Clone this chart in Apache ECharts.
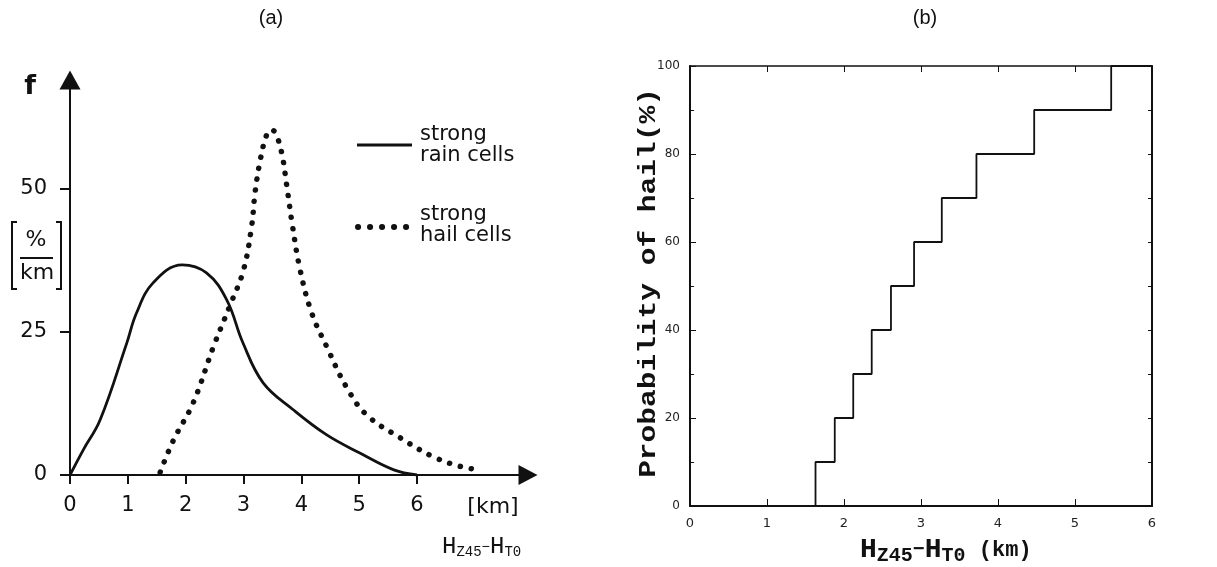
<!DOCTYPE html>
<html>
<head>
<meta charset="utf-8">
<script src="https://cdn.jsdelivr.net/npm/echarts@6/dist/echarts.min.js"></script>
<style>
  html, body { margin: 0; padding: 0; background: #fff; }
  #main { width: 1217px; height: 567px; }
</style>
</head>
<body>
<div id="main"></div>
<script>
// (a) frequency curves, km vs %/km
var rainX = [0, 0.23, 0.52, 0.98, 1.15, 1.44, 1.94, 2.36, 2.71, 2.99, 3.34, 3.86, 4.44, 5.02, 5.6, 6.0];
var rainY = [0, 4.4, 9.6, 23, 28.3, 33.6, 36.7, 35.3, 30.6, 23.1, 16.1, 11.4, 7.0, 3.8, 0.9, 0];
var hailX = [1.56, 1.79, 2.13, 2.48, 2.77, 3.0, 3.14, 3.2, 3.29, 3.4, 3.48, 3.55, 3.66, 3.75, 3.84, 3.98, 4.18, 4.44, 4.79, 5.13, 5.71, 6.28, 6.75, 7.09];
var hailY = [0.5, 6.1, 12.6, 22.4, 29.7, 35.8, 43.4, 49.3, 55, 59.4, 60.3, 59.8, 56.3, 50.4, 44, 35.8, 28.3, 22.4, 15.2, 10.5, 6.5, 3.2, 1.5, 0.9];
var xTicksA = [0, 1, 2, 3, 4, 5, 6];
var yTicksA = [0, 25, 50];

// (b) probability of hail, step curve
var stepX = [0, 1.63, 1.88, 2.12, 2.36, 2.61, 2.91, 3.27, 3.72, 4.47, 5.47, 6];
var stepY = [0, 10, 20, 30, 40, 50, 60, 70, 80, 90, 100, 100];

var ink = '#111';
var sans = 'DejaVu Sans';
var mono = '"Liberation Mono"';

function pairs(xs, ys) {
  return xs.map(function (x, i) { return [x, ys[i]]; });
}

// row of monospace text pieces: [text, size, dy]
function monoRow(x, y, pieces, weight) {
  var cx = x;
  return pieces.map(function (p) {
    var el = {
      type: 'text', x: cx, y: y + p[2],
      style: { text: p[0], font: weight + ' ' + p[1] + 'px ' + mono, fill: ink, textVerticalAlign: 'middle' }
    };
    cx += p[0].length * p[1] * 0.6;
    return el;
  });
}

var myChart = echarts.init(document.getElementById('main'));

var option = {
  animation: false,
  backgroundColor: '#fff',
  grid: [
    { left: 70, top: 80, width: 458, height: 395, outerBoundsMode: 'none' },
    { left: 690, top: 66, width: 462, height: 440, outerBoundsMode: 'none' }
  ],
  xAxis: [
    {
      gridIndex: 0, type: 'value', min: 0, max: 7.92,
      axisLine: { onZero: false, symbol: ['none', 'triangle'], symbolSize: [20, 19], lineStyle: { color: ink, width: 2 } },
      axisTick: { customValues: xTicksA, length: 9, lineStyle: { color: ink, width: 2 } },
      axisLabel: { customValues: xTicksA, margin: 20, fontSize: 21, fontFamily: sans, color: ink },
      splitLine: { show: false }
    },
    {
      gridIndex: 1, type: 'value', min: 0, max: 6, interval: 1, position: 'bottom',
      axisLine: { onZero: false, lineStyle: { color: ink, width: 2 } },
      axisTick: { inside: true, length: 7, lineStyle: { color: ink, width: 1 } },
      axisLabel: { margin: 11, fontSize: 13, fontFamily: sans, color: '#222' },
      splitLine: { show: false }
    },
    {
      gridIndex: 1, type: 'value', min: 0, max: 6, interval: 1, position: 'top',
      axisLine: { onZero: false, lineStyle: { color: ink, width: 1.5 } },
      axisTick: { inside: true, length: 6, lineStyle: { color: ink, width: 1 } },
      axisLabel: { show: false },
      splitLine: { show: false }
    }
  ],
  yAxis: [
    {
      gridIndex: 0, type: 'value', min: 0, max: 69,
      axisLine: { onZero: false, symbol: ['none', 'triangle'], symbolSize: [21, 19], lineStyle: { color: ink, width: 2 } },
      axisTick: { customValues: yTicksA, length: 10, lineStyle: { color: ink, width: 2 } },
      axisLabel: { customValues: yTicksA, margin: 23, fontSize: 21, fontFamily: sans, color: ink },
      splitLine: { show: false }
    },
    {
      gridIndex: 1, type: 'value', min: 0, max: 100, interval: 20, position: 'left',
      axisLine: { onZero: false, lineStyle: { color: ink, width: 2 } },
      axisTick: { inside: true, length: 6, lineStyle: { color: ink, width: 1 } },
      minorTick: { show: true, splitNumber: 2, length: 4, lineStyle: { color: ink, width: 1 } },
      axisLabel: { margin: 10, fontSize: 12, fontFamily: sans, color: '#222' },
      splitLine: { show: false }
    },
    {
      gridIndex: 1, type: 'value', min: 0, max: 100, interval: 20, position: 'right',
      axisLine: { onZero: false, lineStyle: { color: ink, width: 2 } },
      axisTick: { inside: true, length: 4, lineStyle: { color: ink, width: 1 } },
      minorTick: { show: true, splitNumber: 2, length: 4, lineStyle: { color: ink, width: 1 } },
      axisLabel: { show: false },
      splitLine: { show: false }
    }
  ],
  series: [
    {
      name: 'strong rain cells', type: 'line', xAxisIndex: 0, yAxisIndex: 0,
      data: pairs(rainX, rainY), symbol: 'none', smooth: 0.4,
      lineStyle: { color: ink, width: 2.8 }
    },
    {
      name: 'strong hail cells', type: 'line', xAxisIndex: 0, yAxisIndex: 0,
      data: pairs(hailX, hailY), symbol: 'none', smooth: 0.4,
      lineStyle: { color: ink, width: 5.5, type: [0.1, 11], cap: 'round' }
    },
    {
      name: 'Probability of hail', type: 'line', xAxisIndex: 1, yAxisIndex: 1,
      data: pairs(stepX, stepY), symbol: 'none', step: 'end',
      lineStyle: { color: ink, width: 1.8 }
    }
  ],
  graphic: [
    { type: 'text', x: 271, y: 18, style: { text: '(a)', font: '20px "Liberation Sans"', fill: ink, textAlign: 'center', textVerticalAlign: 'middle' } },
    { type: 'text', x: 925, y: 18, style: { text: '(b)', font: '20px "Liberation Sans"', fill: ink, textAlign: 'center', textVerticalAlign: 'middle' } },
    // left axis captions
    { type: 'text', x: 30, y: 87, style: { text: 'f', font: 'bold 27px ' + sans, fill: ink, textAlign: 'center', textVerticalAlign: 'middle' } },
    { type: 'text', x: 36, y: 240, style: { text: '%', font: '22px ' + sans, fill: ink, textAlign: 'center', textVerticalAlign: 'middle' } },
    { type: 'line', shape: { x1: 20, y1: 258, x2: 53, y2: 258 }, style: { stroke: ink, lineWidth: 2 } },
    { type: 'text', x: 37, y: 273, style: { text: 'km', font: '22px ' + sans, fill: ink, textAlign: 'center', textVerticalAlign: 'middle' } },
    { type: 'polyline', shape: { points: [[17, 222], [12, 222], [12, 289], [17, 289]] }, style: { stroke: ink, lineWidth: 2, fill: null } },
    { type: 'polyline', shape: { points: [[56, 222], [61, 222], [61, 289], [56, 289]] }, style: { stroke: ink, lineWidth: 2, fill: null } },
    { type: 'text', x: 493, y: 507, style: { text: '[km]', font: '22px ' + sans, fill: ink, textAlign: 'center', textVerticalAlign: 'middle' } },
    // legend
    { type: 'line', shape: { x1: 357, y1: 145, x2: 412, y2: 145 }, style: { stroke: ink, lineWidth: 3 } },
    { type: 'text', x: 420, y: 135, style: { text: 'strong', font: '21px ' + sans, fill: ink, textVerticalAlign: 'middle' } },
    { type: 'text', x: 420, y: 156, style: { text: 'rain cells', font: '21px ' + sans, fill: ink, textVerticalAlign: 'middle' } },
    { type: 'line', shape: { x1: 358, y1: 227, x2: 406.2, y2: 227 }, style: { stroke: ink, lineWidth: 6, lineDash: [0.1, 11.9], lineCap: 'round' } },
    { type: 'text', x: 420, y: 215, style: { text: 'strong', font: '21px ' + sans, fill: ink, textVerticalAlign: 'middle' } },
    { type: 'text', x: 420, y: 236, style: { text: 'hail cells', font: '21px ' + sans, fill: ink, textVerticalAlign: 'middle' } },
    // right y title
    {
      type: 'text', x: 649, y: 283, rotation: Math.PI / 2, scaleX: 1.23,
      style: { text: 'Probability of hail(%)', font: 'bold 24px ' + mono, fill: ink, textAlign: 'center', textVerticalAlign: 'middle' }
    }
  ]
    .concat(monoRow(442, 547, [['H', 24, 0], ['Z45', 14, 5], ['\u2212', 14, 0], ['H', 24, 0], ['T0', 14, 5]], 'normal'))
    .concat(monoRow(860, 550, [['H', 28, 0], ['Z45', 20, 6], ['\u2212', 20, 0], ['H', 28, 0], ['T0', 20, 6], [' (km)', 22, 0]], 'bold'))
};

myChart.setOption(option);
</script>
</body>
</html>
